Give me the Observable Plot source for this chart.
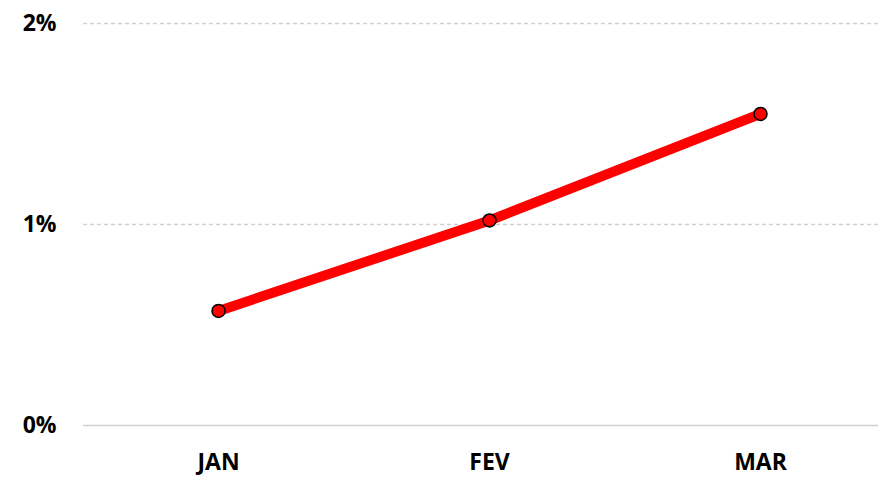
<!DOCTYPE html>
<html>
<head>
<meta charset="utf-8">
<script src="https://cdn.jsdelivr.net/npm/d3@7"></script>
<script src="https://cdn.jsdelivr.net/npm/@observablehq/plot@0.6"></script>
<style>
  html, body { margin: 0; padding: 0; background: #fff; }
  #chart svg { display: block; }
</style>
</head>
<body>
<div id="chart"></div>
<script>
const months = ["JAN", "FEV", "MAR"];
const values = [0.0057, 0.0102, 0.0155];
const yTicks = [0, 0.01, 0.02];
const yTickLabels = ["0%", "1%", "2%"];

const data = months.map((m, i) => ({ month: m, value: values[i] }));

const chart = Plot.plot({
  width: 881,
  height: 478,
  marginLeft: 83,
  marginRight: 3,
  marginTop: 23,
  marginBottom: 53,
  style: { fontFamily: "'Open Sans', sans-serif", background: "#fff", overflow: "visible" },
  x: { type: "point", domain: months, range: [218, 760], padding: 0, label: null },
  y: { domain: [0, 0.02], label: null },
  marks: [
    Plot.ruleY(yTicks.filter(d => d > 0), { stroke: "#d0d0d0", strokeWidth: 1.3, strokeDasharray: "4,3" }),
    Plot.ruleY([0], { stroke: "#d0d0d0", strokeWidth: 1.5 }),
    Plot.axisY({
      ticks: yTicks,
      tickFormat: (d) => yTickLabels[yTicks.indexOf(d)],
      tickSize: 0,
      tickPadding: 27,
      fontSize: 23,
      fontWeight: "bold",
      fill: "#000",
      label: null
    }),
    Plot.axisX({
      tickSize: 0,
      tickPadding: 28,
      fontSize: 23,
      fontWeight: "bold",
      fill: "#000",
      label: null
    }),
    Plot.line(data, { x: "month", y: "value", stroke: "#ff0000", strokeWidth: 10, strokeLinecap: "butt" }),
    Plot.dot(data, { x: "month", y: "value", r: 6.5, fill: "#ff0000", stroke: "#000", strokeWidth: 1.5 })
  ]
});
document.getElementById("chart").appendChild(chart);
</script>
</body>
</html>
